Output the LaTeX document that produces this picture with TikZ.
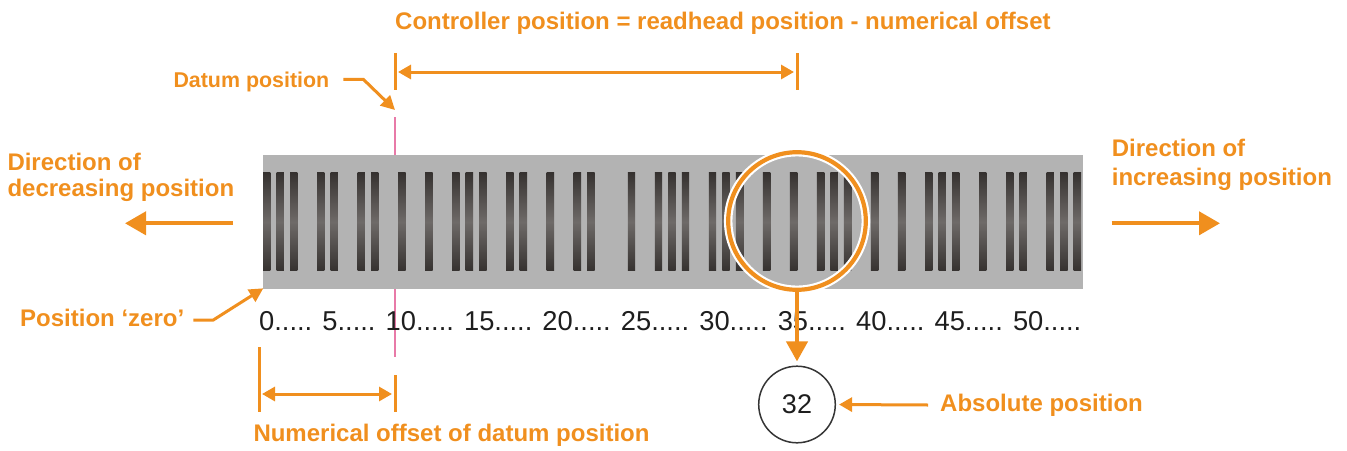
\documentclass[tikz,border=0pt]{standalone}
\usepackage{fontspec}
\setmainfont{Liberation Sans}
\usetikzlibrary{arrows.meta}
\definecolor{org}{HTML}{F08F1E}
\definecolor{stripgray}{HTML}{B3B3B3}
\definecolor{bardark}{HTML}{363230}
\definecolor{barmid}{HTML}{6E6A68}
\definecolor{datumpink}{HTML}{E87AA8}
\definecolor{ink}{HTML}{1E1E1E}
\begin{document}
\begin{tikzpicture}[x=1pt,y=-1pt,
  lbl/.style={text=org, font=\bfseries\fontsize{24}{27}\selectfont, inner sep=0pt, anchor=base west},
  barstyle/.style={top color=bardark, bottom color=bardark, middle color=barmid},
  dimline/.style={draw=org, line width=3pt},
  dimarrow/.style={draw=org, line width=3pt, {Triangle[width=14pt,length=13pt]}-{Triangle[width=14pt,length=13pt]}},
  bigarrow/.style={draw=org, line width=4pt, -{Triangle[width=23pt,length=21pt]}},
  smallarrow/.style={draw=org, line width=3pt, -{Triangle[width=14pt,length=14pt]}}]
\useasboundingbox (0,0) rectangle (1347,450);

% datum line (behind the strip)
\coordinate (dtop) at (395,117);
\coordinate (dbot) at (395,357);
\draw[datumpink, line width=2.4pt] (dtop) -- (dbot);

% scale strip
\node[fill=stripgray, minimum width=820.4pt, minimum height=133.3pt, inner sep=0pt, anchor=north west] (strip) at (262.3,155) {};

% bars
\foreach \k in {0,1,2,4,5,7,8,10,12,14,15,16,18,19,21,23,24,27,29,30,31,33,34,35,37,39,41,42,43,45,47,49,50,51,53,55,56,58,59,60}
  \shade[barstyle] ({266.7+13.51*\k-3.7},172.7) rectangle ++(7.4,98);

% scale numbers
\node[text=ink, font=\fontsize{27.3}{30}\selectfont, inner sep=0pt, anchor=base west] (scale) at (259,330)
  {0..... 5..... 10..... 15..... 20..... 25..... 30..... 35..... 40..... 45..... 50.....};

% readhead
\node[circle, minimum size=137.6pt, inner sep=0pt, draw=org, line width=4.2pt,
      preaction={draw=white, line width=8.5pt}] (rh) at (797,221) {};

% absolute position circle
\node[circle, minimum size=76.6pt, inner sep=0pt, draw=ink!90, line width=1.5pt,
      text=ink, font=\fontsize{27}{27}\selectfont] (abs) at (797,404.5) {32};
\draw[draw=org, line width=4pt, -{Triangle[width=21pt,length=20pt]}, shorten >=4pt] (rh.south) -- (abs.north);

% top label and dimension
\node[lbl] (ctrl) at (395,29.3) {Controller position = readhead position - numerical offset};
\coordinate (c1t) at (395,53); \coordinate (c1b) at (395,90);
\coordinate (c2t) at (797,53); \coordinate (c2b) at (797,90);
\draw[dimline] (c1t) -- (c1b);
\draw[dimline] (c2t) -- (c2b);
\coordinate (cl) at (395,72); \coordinate (cr) at (797,72);
\draw[dimarrow, shorten <=3pt, shorten >=3pt] (cl) -- (cr);

% datum label
\node[lbl, font=\bfseries\fontsize{21.4}{25}\selectfont] (datum) at (173.3,87) {Datum position};
\coordinate (da0) at (343.3,79.3); \coordinate (da1) at (363.3,79.3); \coordinate (da2) at (395,110);
\draw[smallarrow] (da0) -- (da1) -- (da2);

% left direction
\node[lbl] (ldir1) at (7.3,170) {Direction of};
\node[lbl] (ldir2) at (7.3,196.7) {decreasing position};
\coordinate (la0) at (233,223.3); \coordinate (la1) at (125,223.3);
\draw[bigarrow] (la0) -- (la1);

% right direction
\node[lbl] (rdir1) at (1111.7,156.7) {Direction of};
\node[lbl] (rdir2) at (1111.7,185) {increasing position};
\coordinate (ra0) at (1111.7,223.3); \coordinate (ra1) at (1220,223.3);
\draw[bigarrow] (ra0) -- (ra1);

% position zero
\node[lbl] (pzero) at (20,326) {Position ‘zero’};
\coordinate (pz0) at (193.3,320); \coordinate (pz1) at (213.3,320); \coordinate (pz2) at (263.3,288.3);
\draw[smallarrow] (pz0) -- (pz1) -- (pz2);

% numerical offset dimension
\coordinate (n1t) at (259,347); \coordinate (n1b) at (259,412);
\coordinate (n2t) at (395,375); \coordinate (n2b) at (395,412);
\draw[dimline] (n1t) -- (n1b);
\draw[dimline] (n2t) -- (n2b);
\coordinate (nl) at (259,394); \coordinate (nr) at (395,394);
\draw[dimarrow, shorten <=3pt, shorten >=3pt] (nl) -- (nr);
\node[lbl] (noff) at (253.3,441.7) {Numerical offset of datum position};

% absolute position
\node[lbl] (absl) at (940,411.7) {Absolute position};
\coordinate (ab0) at (928,405);
\draw[draw=org, line width=3pt, -{Triangle[width=14pt,length=13pt]}, shorten >=3pt] (ab0) -- (abs.east);
\end{tikzpicture}
\end{document}
